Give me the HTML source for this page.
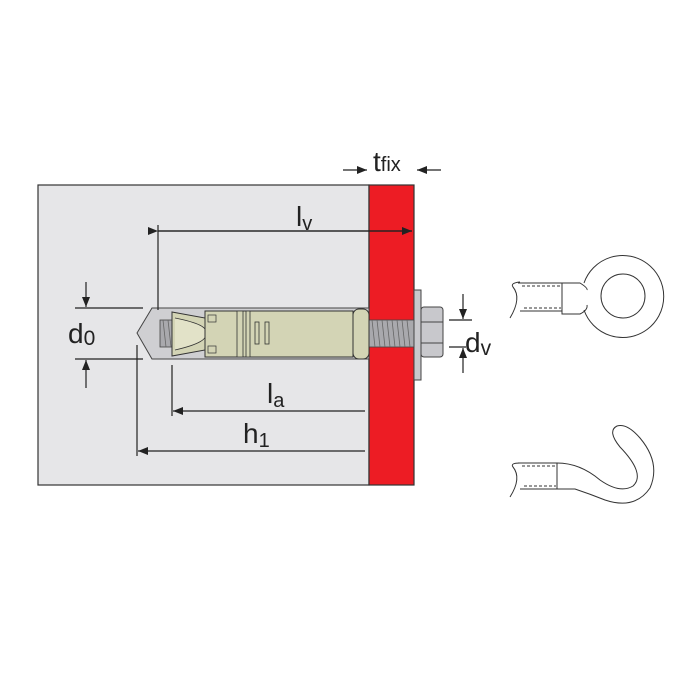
<!DOCTYPE html>
<html><head><style>body{margin:0;background:#fff}svg{display:block}</style></head><body>
<svg width="700" height="700" viewBox="0 0 700 700" xmlns="http://www.w3.org/2000/svg" font-family="Liberation Sans, sans-serif">
<defs>
<marker id="a" markerWidth="10" markerHeight="8" refX="10" refY="4" orient="auto" markerUnits="userSpaceOnUse"><path d="M0,0L10,4L0,8z" fill="#222"/></marker>
</defs>
<rect x="38" y="185" width="331" height="300" fill="#e6e6e8" stroke="#333" stroke-width="1.2"/>
<rect x="369" y="185" width="45" height="300" fill="#ed1c24" stroke="#333" stroke-width="1.2"/>
<path d="M152,308 L369,308 L369,359 L152,359 L137,333 Z" fill="#cfcfd2" stroke="#444" stroke-width="1"/>
<rect x="160" y="320" width="255" height="27" fill="#a9a9ad" stroke="#444" stroke-width="0.8"/>
<g stroke="#666" stroke-width="0.8">
<path d="M372,320l3,27M377,320l3,27M382,320l3,27M387,320l3,27M392,320l3,27M397,320l3,27M402,320l3,27M407,320l3,27M163,320l3,27M168,320l3,27"/>
</g>
<path d="M172,312 L205,318 L205,350 L172,356 Z" fill="#d3d4b5" stroke="#333" stroke-width="1"/>
<path d="M175,318 Q210,325 205,333 Q210,342 175,350" fill="#e2e2c8" stroke="#333" stroke-width="0.8"/>
<rect x="205" y="311" width="148" height="46" fill="#d3d4b5" stroke="#333" stroke-width="1"/>
<rect x="237" y="311" width="6" height="46" fill="#d3d4b5" stroke="#333" stroke-width="0.8"/>
<rect x="246" y="311" width="4" height="46" fill="#d3d4b5" stroke="#333" stroke-width="0.8"/>
<rect x="255" y="322" width="4" height="22" fill="#d3d4b5" stroke="#333" stroke-width="0.8"/>
<rect x="265" y="322" width="4" height="22" fill="#d3d4b5" stroke="#333" stroke-width="0.8"/>
<rect x="208" y="315" width="8" height="7" fill="#d3d4b5" stroke="#333" stroke-width="0.7"/>
<rect x="208" y="346" width="8" height="7" fill="#d3d4b5" stroke="#333" stroke-width="0.7"/>
<rect x="353" y="309" width="16" height="50" rx="6" fill="#d3d4b5" stroke="#333" stroke-width="1"/>
<rect x="414" y="290" width="7" height="90" fill="#c8c8cc" stroke="#444"/>
<rect x="421" y="307" width="22" height="50" rx="3" fill="#c8c8cc" stroke="#444"/>
<line x1="421" y1="322" x2="443" y2="322" stroke="#444"/><line x1="421" y1="343" x2="443" y2="343" stroke="#444"/>
<g stroke="#222" stroke-width="1.2" fill="none">
<line x1="158" y1="225" x2="158" y2="310"/>
<line x1="158" y1="231" x2="412" y2="231" marker-end="url(#a)"/>
<line x1="158" y1="231" x2="412" y2="231" marker-start="url(#a)"/>
<line x1="343" y1="170" x2="367" y2="170" marker-end="url(#a)"/>
<line x1="441" y1="170" x2="417" y2="170" marker-end="url(#a)"/>
<line x1="75" y1="308" x2="143" y2="308"/>
<line x1="75" y1="359" x2="143" y2="359"/>
<line x1="86" y1="282" x2="86" y2="307" marker-end="url(#a)"/>
<line x1="86" y1="388" x2="86" y2="360" marker-end="url(#a)"/>
<line x1="172" y1="365" x2="172" y2="416"/>
<line x1="137" y1="345" x2="137" y2="456"/>
<line x1="365" y1="411" x2="173" y2="411" marker-end="url(#a)"/>
<line x1="365" y1="451" x2="138" y2="451" marker-end="url(#a)"/>
<line x1="449" y1="320" x2="472" y2="320"/>
<line x1="449" y1="347" x2="466" y2="347"/>
<line x1="463" y1="294" x2="463" y2="319" marker-end="url(#a)"/>
<line x1="463" y1="373" x2="463" y2="348" marker-end="url(#a)"/>
</g>
<g fill="#222" font-size="28">
<text x="373" y="171">t<tspan font-size="20">fix</tspan></text>
<text x="296" y="226">l<tspan font-size="20" dy="4">v</tspan></text>
<text x="68" y="343">d<tspan font-size="21" dy="2">0</tspan></text>
<text x="465" y="352">d<tspan font-size="21" dy="3">v</tspan></text>
<text x="267" y="403">l<tspan font-size="20" dy="4">a</tspan></text>
<text x="243" y="443">h<tspan font-size="20" dy="4">1</tspan></text>
</g>
<g stroke="#333" stroke-width="1" fill="none">
<path d="M520,282 Q510,283 513,287 Q522,298 510,318"/>
<line x1="518" y1="283" x2="562" y2="283"/><line x1="520" y1="311" x2="562" y2="311"/>
<line x1="522" y1="286" x2="561" y2="286" stroke-dasharray="3,2"/><line x1="524" y1="308" x2="561" y2="308" stroke-dasharray="3,2"/>
<path d="M562,283 L562,314 L580,314 Q588,310 587,305"/>
<path d="M562,283 L580,283 Q588,288 587,290"/>
<path d="M584,283 A41,41 0 1,1 584,310"/>
<circle cx="623" cy="296" r="22"/>
<path d="M520,463 Q510,463 513,467 Q522,478 510,497"/>
<line x1="518" y1="463" x2="557" y2="463"/><line x1="520" y1="489" x2="557" y2="489"/>
<line x1="522" y1="466" x2="556" y2="466" stroke-dasharray="3,2"/><line x1="524" y1="486" x2="556" y2="486" stroke-dasharray="3,2"/>
<line x1="557" y1="463" x2="557" y2="489"/>
<path d="M557,463 Q580,463 600,480 Q620,494 633,486 Q646,474 620,447 Q607,431 617,426 Q627,423 640,438 Q661,463 650,488 Q635,510 605,500 Q590,494 575,489 L557,489"/>
</g>
</svg>
</body></html>
